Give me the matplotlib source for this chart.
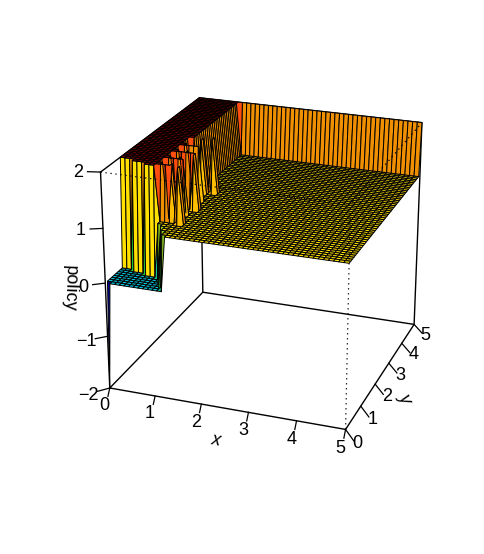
#!/usr/bin/env python
"""Perspective surface of the policy over x and y"""
import numpy as np
import matplotlib
matplotlib.use("Agg")
import matplotlib.pyplot as plt
from matplotlib.colors import LinearSegmentedColormap, Normalize
from mpl_toolkits.mplot3d import proj3d

x_vals = np.round(np.arange(51) * 0.1, 1)
y_vals = np.round(np.arange(51) * 0.1, 1)
x_ticks = [0, 1, 2, 3, 4, 5]
y_ticks = [0, 1, 2, 3, 4, 5]
z_ticks = [-2, -1, 0, 1, 2]
z_tick_labels = ["\u22122", "\u22121", "0", "1", "2"]

# first y index of the z=2 plateau for x index 0..8
plateau_start = [9, 9, 9, 8, 8, 8, 7, 7, 7]
# last y index still at z=0 for x index 0..12
low_end = [8, 8, 8, 7, 7, 7, 6, 6, 6, 5, 4, 2, 0]
# grid points (x index, y index) at z=2 in the noisy patch
spikes = [(9, 8), (9, 9), (9, 12), (9, 13), (9, 16), (9, 17), (9, 20), (9, 21),
          (11, 8), (11, 9), (11, 12), (11, 13), (11, 16), (11, 17), (11, 20),
          (13, 7), (13, 8), (13, 15), (13, 16), (13, 25), (13, 26),
          (10, 8), (12, 12), (10, 16), (12, 20), (10, 12), (10, 20), (12, 16),
          (11, 24), (11, 25), (9, 25)]

policy = np.ones((51, 51))
policy[:, 50] = 2.0
for i, start in enumerate(plateau_start):
    policy[i, start:] = 2.0
policy[9, 25:] = 2.0
for i, end in enumerate(low_end):
    policy[i, :end + 1] = 0.0
for i, j in spikes:
    policy[i, j] = 2.0
policy[0, 0] = -2.0

level_z = [-0.5, 0.0, 0.5, 1.0, 1.25, 1.5, 1.75, 2.0]
level_colors = ["#000090", "#00C8E0", "#20C040", "#FFE000", "#FFC000",
                "#F09000", "#FF5010", "#800000"]


def facet_colors(z):
    mids = 0.25 * (z[:-1, :-1] + z[1:, :-1] + z[:-1, 1:] + z[1:, 1:])
    norm = Normalize(level_z[0], level_z[-1])
    stops = [norm(v) for v in level_z]
    cmap = LinearSegmentedColormap.from_list("policy", list(zip(stops, level_colors)))
    return cmap(norm(mids))


def _main():
    plt.rcParams["font.family"] = ["Liberation Sans", "DejaVu Sans"]
    fig = plt.figure(figsize=(4.85, 5.54), dpi=100)
    ax = fig.add_axes([19 / 485, 17 / 554, 1.0, 1.0], projection="3d", computed_zorder=False)
    ax.set_proj_type("persp", focal_length=0.62)
    ax.view_init(elev=23, azim=-70)
    ax.set_xlim(0, 5, view_margin=0)
    ax.set_ylim(0, 5, view_margin=0)
    ax.set_zlim(-2, 2, view_margin=0)
    ax.set_box_aspect((1, 1, 0.93), zoom=0.825)
    ax.set_axis_off()

    box = dict(color="k", lw=1.0, zorder=1)
    ax.plot([0, 5, 5, 0, 0], [0, 0, 5, 5, 0], [-2] * 5, **box)
    ax.plot([5, 5, 0, 0], [5, 5, 5, 0], [-2, 2, 2, 2], **box)
    ax.plot([0, 0], [5, 5], [-2, 2], **box)
    ax.plot([0, 0], [0, 0], [-2, 2], **box)

    X, Y = np.meshgrid(x_vals, y_vals, indexing="ij")
    ax.plot_surface(X, Y, policy, rstride=1, cstride=1, facecolors=facet_colors(policy),
                    edgecolor="k", linewidth=0.7, shade=False, zorder=2)

    dots = dict(color="k", lw=0.9, ls=(0, (1, 3)), zorder=3)
    ax.plot([5, 5], [0, 0], [-2, 2], **dots)
    ax.plot([0, 5, 5], [0, 0, 5], [2, 2, 2], **dots)

    M = ax.get_proj()

    def put(x, y, z, s, **kw):
        px, py, _ = proj3d.proj_transform(x, y, z, M)
        ax.text2D(px, py, s, transform=ax.transData, ha="center", va="center",
                  fontsize=13, zorder=4, **kw)

    tick = dict(color="k", lw=0.9, zorder=3)
    for v in x_ticks:
        ax.plot([v, v], [0, -0.1], [-2, -2.12], **tick)
        put(v, -0.3, -2.22, str(v))
    for v in y_ticks:
        ax.plot([5, 5.28], [v, v - 0.37], [-2, -2], **tick)
        put(5.38, v - 0.45, -2, str(v))
    for v, s in zip(z_ticks, z_tick_labels):
        ax.plot([0, 0], [0, -0.55], [v, v + 0.17], **tick)
        put(0, -0.95, v + 0.27, s)
    put(2.5, -0.5, -2.4, "x", style="italic", rotation=-10)
    put(5.55, 2.3, -2.3, "y", style="italic", rotation=-65)
    put(0, -1.5, 0.45, "policy", rotation=-92)

    plt.savefig("out.png", dpi=100)
    plt.close()
    return 0


if __name__ == "__main__":
    raise SystemExit(_main())
